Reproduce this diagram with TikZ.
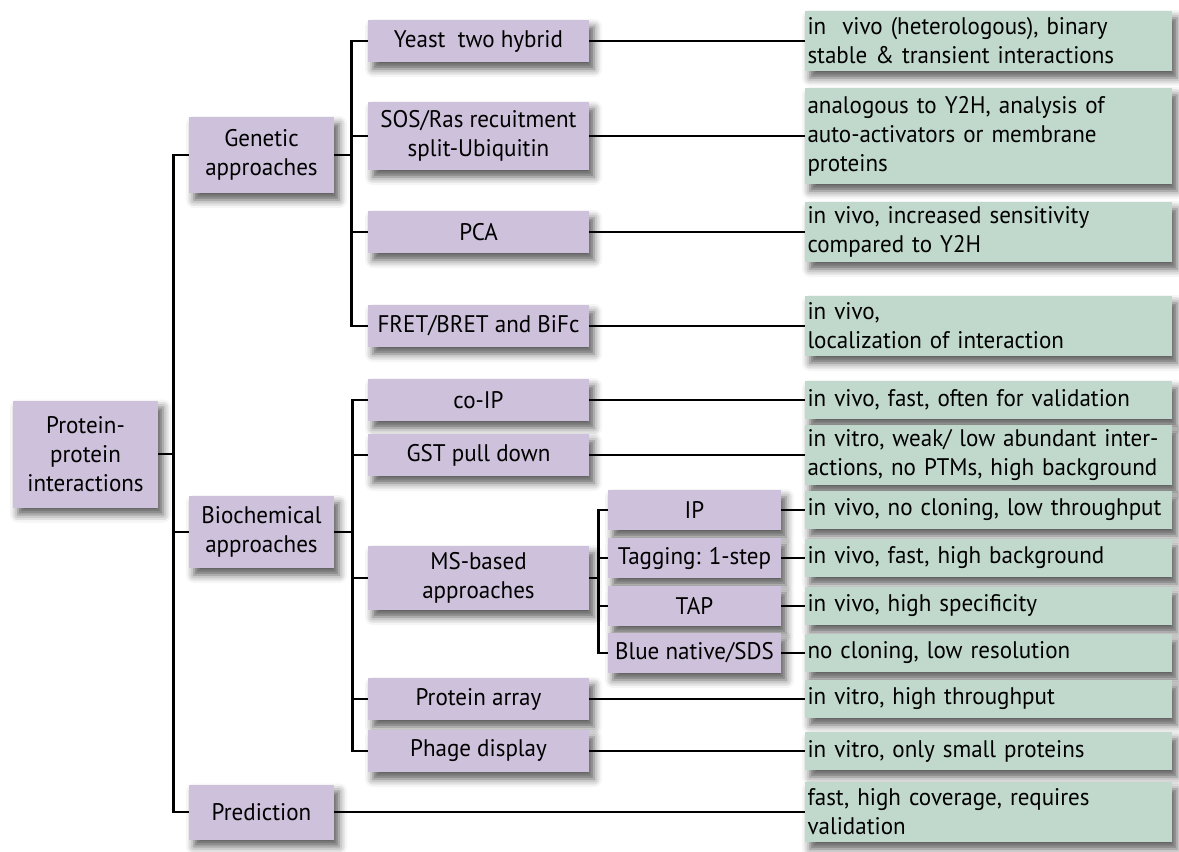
\documentclass[tikz,border=0pt]{standalone}
\usepackage{fontspec}
\setmainfont{PT Sans}[FakeStretch=0.96]
\usetikzlibrary{positioning,shadows.blur}
\definecolor{lilac}{RGB}{206,193,219}
\definecolor{sage}{RGB}{193,217,205}

\begin{document}
\begin{tikzpicture}[x=0.5pt, y=-0.5pt,
  sh/.style={blur shadow={shadow xshift=2.5pt, shadow yshift=-3.5pt,
             shadow blur radius=4pt, shadow opacity=65}},
  box/.style={fill=lilac, sh, align=center, inner sep=1pt,
              font=\fontsize{12}{14.5}\selectfont},
  grp/.style={box, minimum width=72.5pt},
  meth/.style={box, minimum width=110.5pt, minimum height=21pt},
  sub/.style={box, minimum width=86.5pt, minimum height=20pt},
  note/.style={fill=sage, sh, align=left, text width=181pt, inner xsep=1.25pt,
               inner ysep=1pt, minimum height=19pt, font=\fontsize{12}{14.5}\selectfont},
  ln/.style={line width=1.1pt}
]
\useasboundingbox (0,0) rectangle (1179,852);

\node[grp, minimum height=53.5pt] (root) at (85.5,454) {Protein-\\protein\\interactions};
\node[grp, minimum height=38pt] (gen) at (261.5,155) {Genetic\\approaches};
\node[grp, minimum height=36pt] (bio) at (261.5,532) {Biochemical\\approaches};
\node[grp, minimum height=27.5pt] (pred) at (261.5,812) {Prediction};

\node[meth] (y2h) at (478.5,41) {Yeast~ two hybrid};
\node[meth, minimum height=34pt] (sos) at (478.5,136) {SOS/Ras recuitment\\split-Ubiquitin};
\node[meth] (pca) at (478.5,232) {PCA};
\node[meth] (fret) at (478.5,326) {FRET/BRET and BiFc};
\node[meth] (coip) at (478.5,400) {co-IP};
\node[meth] (gst) at (478.5,455) {GST pull down};
\node[meth, minimum height=32pt] (ms) at (478.5,578) {MS-based\\approaches};
\node[meth] (arr) at (478.5,699) {Protein array};
\node[meth] (phage) at (478.5,751) {Phage display};

\node[sub] (ip) at (694.5,510) {IP};
\node[sub] (tag) at (694.5,558) {Tagging: 1-step};
\node[sub] (tap) at (694.5,606) {TAP};
\node[sub] (blue) at (694.5,653) {Blue native/SDS};

\node[note, minimum height=30pt] (d-y2h) at (988.5,41) {in~ vivo (heterologous), binary\\stable \& transient interactions};
\node[note, minimum height=48pt] (d-sos) at (988.5,136) {analogous to Y2H, analysis of\\auto-activators or membrane\\proteins};
\node[note, minimum height=30pt] (d-pca) at (988.5,232) {in vivo, increased sensitivity\\compared to Y2H};
\node[note, minimum height=30pt] (d-fret) at (988.5,326) {in vivo,\\localization of interaction};
\node[note] (d-coip) at (988.5,400) {in vivo, fast, often for validation};
\node[note, minimum height=30pt] (d-gst) at (988.5,455) {in vitro, weak/ low abundant inter-\\actions, no PTMs, high background};
\node[note] (d-ip) at (988.5,510) {in vivo, no cloning, low throughput};
\node[note] (d-tag) at (988.5,558) {in vivo, fast, high background};
\node[note] (d-tap) at (988.5,606) {in vivo, high specificity};
\node[note] (d-blue) at (988.5,653) {no cloning, low resolution};
\node[note] (d-arr) at (988.5,699) {in vitro, high throughput};
\node[note] (d-phage) at (988.5,751) {in vitro, only small proteins};
\node[note, minimum height=30pt] (d-pred) at (988.5,812) {fast, high coverage, requires\\validation};

\draw[ln] (root.east) -- ++(15,0) |- (gen.west);
\draw[ln] (root.east) -- ++(15,0) |- (bio.west);
\draw[ln] (root.east) -- ++(15,0) |- (pred.west);
\draw[ln] (gen.east) -- ++(17,0) |- (y2h.west);
\draw[ln] (gen.east) -- ++(17,0) |- (sos.west);
\draw[ln] (gen.east) -- ++(17,0) |- (pca.west);
\draw[ln] (gen.east) -- ++(17,0) |- (fret.west);
\draw[ln] (bio.east) -- ++(18,0) |- (coip.west);
\draw[ln] (bio.east) -- ++(18,0) |- (gst.west);
\draw[ln] (bio.east) -- ++(18,0) |- (ms.west);
\draw[ln] (bio.east) -- ++(18,0) |- (arr.west);
\draw[ln] (bio.east) -- ++(18,0) |- (phage.west);
\draw[ln] (ms.east) -- ++(9,0) |- (ip.west);
\draw[ln] (ms.east) -- ++(9,0) |- (tag.west);
\draw[ln] (ms.east) -- ++(9,0) |- (tap.west);
\draw[ln] (ms.east) -- ++(9,0) |- (blue.west);
\draw[ln] (y2h) -- (d-y2h);
\draw[ln] (sos) -- (d-sos);
\draw[ln] (pca) -- (d-pca);
\draw[ln] (fret) -- (d-fret);
\draw[ln] (coip) -- (d-coip);
\draw[ln] (gst) -- (d-gst);
\draw[ln] (ip) -- (d-ip);
\draw[ln] (tag) -- (d-tag);
\draw[ln] (tap) -- (d-tap);
\draw[ln] (blue) -- (d-blue);
\draw[ln] (arr) -- (d-arr);
\draw[ln] (phage) -- (d-phage);
\draw[ln] (pred) -- (d-pred);
\end{tikzpicture}
\end{document}
